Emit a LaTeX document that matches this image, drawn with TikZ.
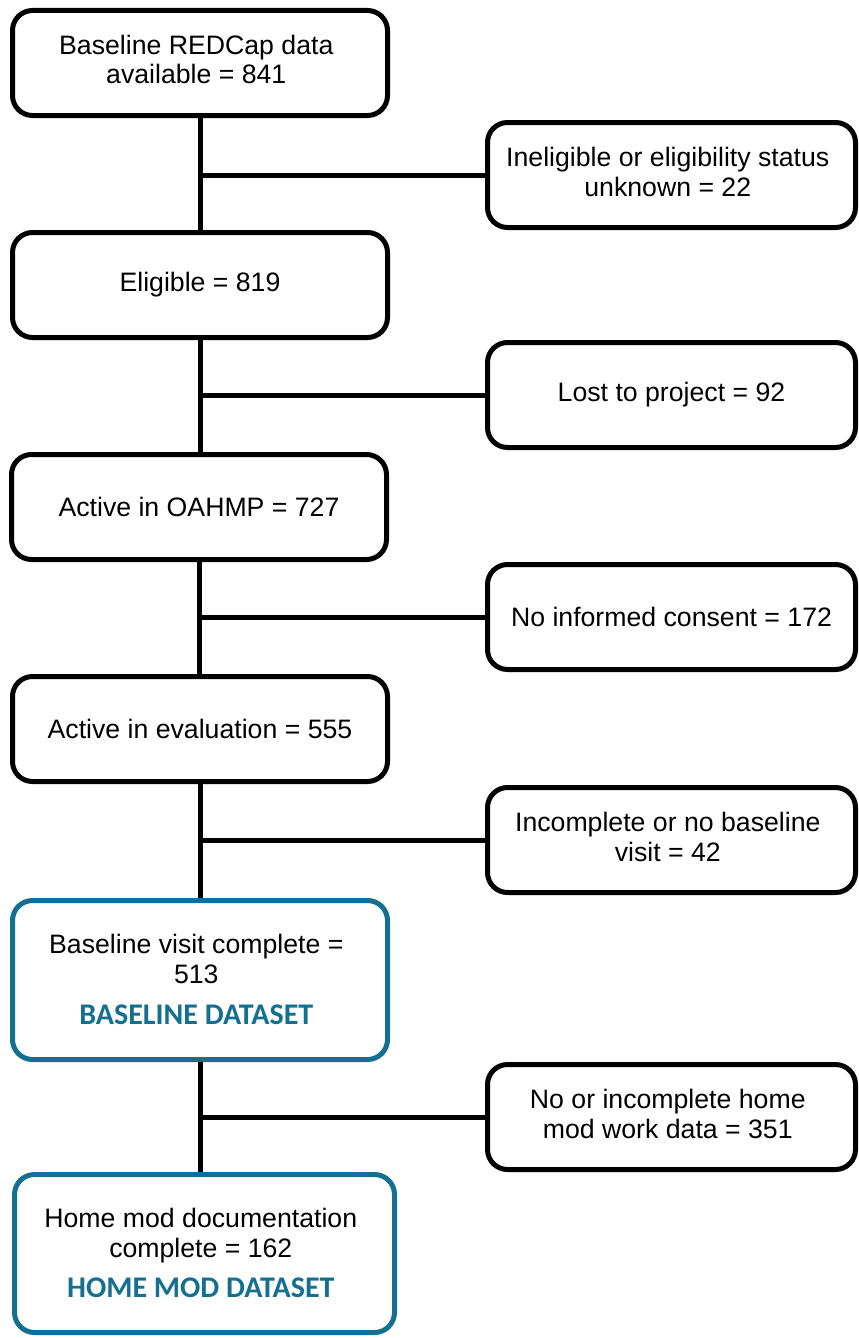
\documentclass[tikz,border=0pt]{standalone}
\usepackage{fontspec}
\setmainfont{Liberation Sans}
\newfontfamily\labelfont{Carlito}
\usepackage{tikz}
\usetikzlibrary{positioning}
\definecolor{dsblue}{RGB}{19,112,145}
\tikzstyle{stage} = [rectangle, draw, line width=3.75pt, fill=white, rounded corners=15pt,
    minimum width=281.25pt, minimum height=78.75pt, align=center, inner sep=0pt,
    font=\fontsize{20}{22.5}\selectfont]
\tikzstyle{excl} = [stage, minimum width=276pt]
\tikzstyle{dataset} = [stage, draw=dsblue, minimum height=119.25pt]
\tikzstyle{link} = [line width=3.75pt]
\newcommand{\dslabel}[1]{{\labelfont\fontsize{22.5}{24}\selectfont\bfseries\color{dsblue}#1}}

\begin{document}
\begin{tikzpicture}[x=0.75pt, y=-0.75pt]
        \useasboundingbox (0,0) rectangle (859,1338);

        % main stages
        \node (s1) at (200,63) [stage] {
            \begin{tabular}{c}
                Baseline REDCap data \\
                available = 841
            \end{tabular}
        };
        \node (s2) at (200,285) [stage] {Eligible = 819};
        \node (s3) at (199,507) [stage] {Active in OAHMP = 727};
        \node (s4) at (200,729) [stage] {Active in evaluation = 555};
        \node (s5) at (200,980) [dataset] {
            \begin{tabular}{c}
                \rule{0pt}{20pt}Baseline visit complete = \\
                513 \\[8pt]
                \dslabel{BASELINE DATASET}
            \end{tabular}
        };
        \node (s6) at (204.5,1253.5) [dataset, minimum width=285pt, minimum height=118.5pt] {
            \begin{tabular}{c}
                \rule{0pt}{20pt}Home mod documentation \\
                complete = 162 \\[8pt]
                \dslabel{HOME MOD DATASET}
            \end{tabular}
        };

        % exclusions
        \node (e1) at (671.5,175) [excl] {
            \begin{tabular}{c}
                Ineligible or eligibility status \\
                unknown = 22
            \end{tabular}
        };
        \node (e2) at (671.5,395) [excl] {Lost to project = 92};
        \node (e3) at (671.5,617) [excl] {No informed consent = 172};
        \node (e4) at (671.5,840) [excl] {
            \begin{tabular}{c}
                Incomplete or no baseline \\
                visit = 42
            \end{tabular}
        };
        \node (e5) at (671.5,1117) [excl] {
            \begin{tabular}{c}
                No or incomplete home \\
                mod work data = 351
            \end{tabular}
        };

        % spine and branches
        \foreach \a/\b in {s1/s2, s2/s3, s3/s4, s4/s5, s5/s6}
            \draw[link] (\a.south) -- (\a.south |- \b.north);
        \foreach \a/\e in {s1/e1, s2/e2, s3/e3, s4/e4, s5/e5}
            \draw[link] (\a.south |- \e.west) -- (\e.west);
    \end{tikzpicture}
\end{document}
